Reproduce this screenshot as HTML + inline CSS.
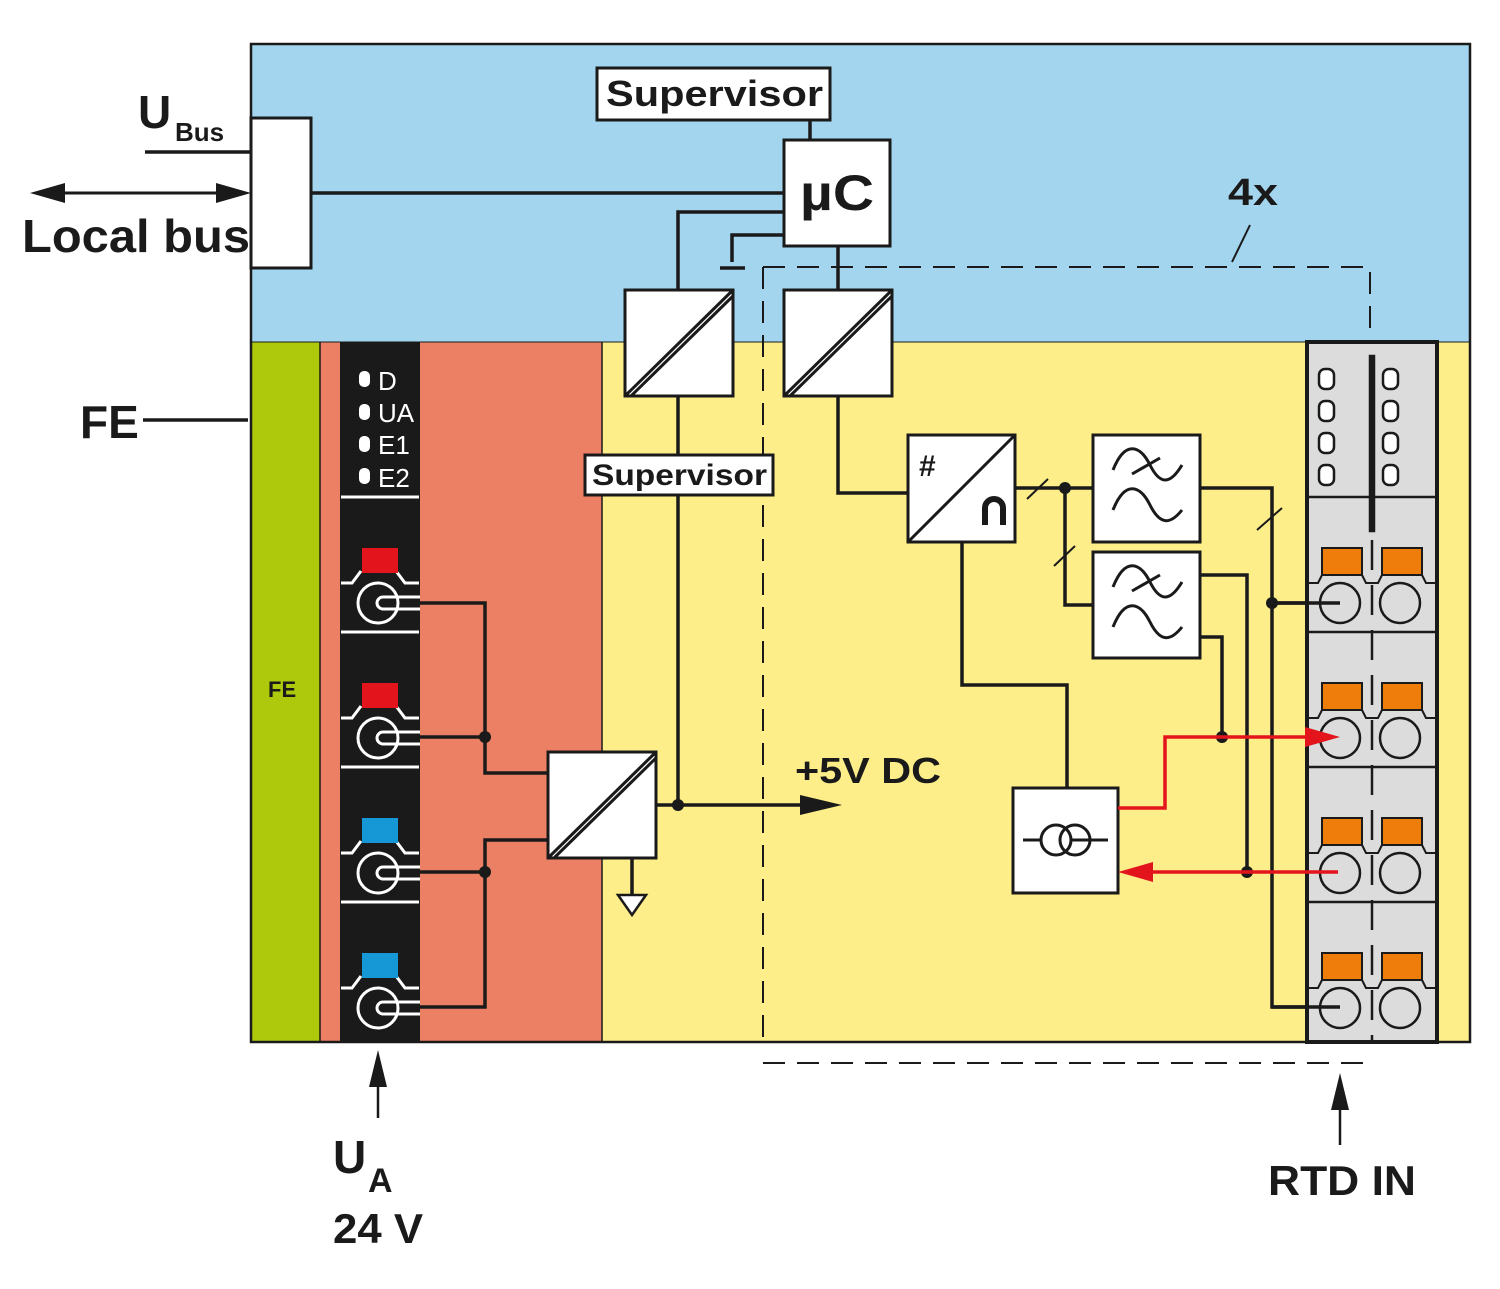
<!DOCTYPE html>
<html><head><meta charset="utf-8"><style>html,body{margin:0;padding:0;background:#fff}svg{display:block}text{font-family:"Liberation Sans",Arial,sans-serif;font-weight:bold}</style></head><body>
<svg width="1500" height="1289" viewBox="0 0 1500 1289" xmlns="http://www.w3.org/2000/svg">
<!-- regions -->
<rect x="251" y="44" width="1219" height="298" fill="#a3d5ee"/>
<rect x="602" y="342" width="868" height="700" fill="#fdee8a"/>
<rect x="320" y="342" width="282" height="700" fill="#ec8065"/>
<rect x="251" y="342" width="69" height="700" fill="#aec90c"/>
<rect x="251" y="44" width="1219" height="998" fill="none" stroke="#1a1a1a" stroke-width="2.5"/>
<line x1="251" y1="342" x2="1470" y2="342" stroke="#1a1a1a" stroke-width="1"/>
<line x1="320" y1="342" x2="320" y2="1042" stroke="#1a1a1a" stroke-width="1.5"/>
<line x1="602" y1="342" x2="602" y2="1042" stroke="#1a1a1a" stroke-width="1.5"/>
<text x="268" y="697" font-size="22" fill="#1a1a1a">FE</text>

<!-- black strip -->
<rect x="340" y="342" width="80" height="700" fill="#1a1a1a"/>
<g fill="#fff">
<rect x="359" y="371" width="11" height="16" rx="5"/><rect x="359" y="404" width="11" height="16" rx="5"/>
<rect x="359" y="436" width="11" height="16" rx="5"/><rect x="359" y="468" width="11" height="16" rx="5"/>
<text x="378" y="390" font-size="26" style="font-weight:normal">D</text>
<text x="378" y="422" font-size="26" style="font-weight:normal">UA</text>
<text x="378" y="454" font-size="26" style="font-weight:normal">E1</text>
<text x="378" y="487" font-size="26" style="font-weight:normal">E2</text>
</g>
<line x1="341" y1="497" x2="419" y2="497" stroke="#fff" stroke-width="3"/>
<g stroke="#fff" stroke-width="3" fill="none">
<line x1="341" y1="632" x2="419" y2="632"/><line x1="341" y1="767" x2="419" y2="767"/><line x1="341" y1="902" x2="419" y2="902"/>
</g>
<g id="conn">
<path d="M341,583 L352,583 L361,571 M396,571 L405,583 L419,583" stroke="#fff" stroke-width="3" fill="none"/>
<circle cx="378" cy="603" r="20" stroke="#fff" stroke-width="3" fill="none"/>
<path d="M383,597 L420,597 M383,609 L420,609 M383,597 A6,6 0 0 0 383,609" stroke="#fff" stroke-width="3" fill="none"/>
</g>
<rect x="362" y="548" width="36" height="25" fill="#e3141b"/>
<use href="#conn" y="135"/><rect x="362" y="683" width="36" height="25" fill="#e3141b"/>
<use href="#conn" y="270"/><rect x="362" y="818" width="36" height="25" fill="#1798d6"/>
<use href="#conn" y="405"/><rect x="362" y="953" width="36" height="25" fill="#1798d6"/>

<!-- wiring -->
<g stroke="#1a1a1a" stroke-width="3.5" fill="none">
<path d="M408,603 H485 V773 H548"/>
<path d="M408,737 H485"/>
<path d="M408,872 H485"/>
<path d="M408,1007 H485 V840 H548"/>
<path d="M145,152 H251"/>
<path d="M311,193 H784"/>
<path d="M143,420 H248"/>
<path d="M810,120 V140"/>
<path d="M784,212 H678 V290"/>
<path d="M784,235 H732 V262"/>
<path d="M720,268 H745"/>
<path d="M838,246 V290"/>
<path d="M678,396 V805"/>
<path d="M656,805 H805"/>
<path d="M632,858 V895"/>
<path d="M838,396 V493 H908"/>
<path d="M1015,488 H1093"/>
<path d="M1065,488 V605 H1093"/>
<path d="M1200,488 H1272 V1007 H1322"/>
<path d="M1272,603 H1322"/>
<path d="M1200,575 H1247 V872"/>
<path d="M1200,637 H1222 V737"/>
<path d="M962,542 V685 H1067 V788"/>
</g>
<path d="M618,895 L646,895 L632,915 Z" fill="#fff" stroke="#1a1a1a" stroke-width="2.5"/>
<g stroke="#1a1a1a" stroke-width="2">
<line x1="1027" y1="499" x2="1048" y2="479"/>
<line x1="1054" y1="566" x2="1075" y2="546"/>
<line x1="1257" y1="530" x2="1282" y2="508"/>
</g>
<g fill="#1a1a1a">
<circle cx="485" cy="737" r="6"/><circle cx="485" cy="872" r="6"/>
<circle cx="678" cy="805" r="6"/><circle cx="1065" cy="488" r="6"/>
<circle cx="1272" cy="603" r="6"/><circle cx="1222" cy="737" r="6"/><circle cx="1247" cy="872" r="6"/>
</g>
<path d="M800,795 L842,805 L800,815 Z" fill="#1a1a1a"/>

<!-- dashed 4x -->
<g stroke="#1a1a1a" stroke-width="2" stroke-dasharray="22,12" fill="none">
<path d="M763,267 H1370 V340"/>
<path d="M763,267 V1042"/>
<path d="M763,1063 H1370"/>
</g>
<line x1="1250" y1="225" x2="1232" y2="262" stroke="#1a1a1a" stroke-width="2"/>
<text x="1228" y="205" font-size="38" fill="#1a1a1a" textLength="50" lengthAdjust="spacingAndGlyphs">4x</text>

<!-- boxes -->
<g stroke="#1a1a1a" stroke-width="3" fill="#fff">
<rect x="251" y="118" width="60" height="150"/>
<rect x="597" y="68" width="233" height="52"/>
<rect x="784" y="140" width="106" height="106"/>
<rect x="625" y="290" width="108" height="106"/>
<rect x="784" y="290" width="108" height="106"/>
<rect x="585" y="455" width="188" height="40"/>
<rect x="548" y="752" width="108" height="106"/>
<rect x="908" y="435" width="107" height="107"/>
<rect x="1093" y="435" width="107" height="107"/>
<rect x="1093" y="552" width="107" height="106"/>
<rect x="1013" y="788" width="105" height="105"/>
</g>
<g stroke="#1a1a1a" stroke-width="3" fill="none">
<line x1="625" y1="396" x2="733" y2="290"/><line x1="631" y1="396" x2="733" y2="296"/>
<line x1="784" y1="396" x2="892" y2="290"/><line x1="790" y1="396" x2="892" y2="296"/>
<line x1="548" y1="858" x2="656" y2="752"/><line x1="554" y1="858" x2="656" y2="758"/>
<line x1="908" y1="542" x2="1015" y2="435"/>
<path d="M1113,470 C1125,440 1140,445 1150,465 S1170,485 1182,465"/>
<line x1="1132" y1="474" x2="1160" y2="458"/>
<path d="M1113,510 C1125,480 1140,485 1150,505 S1170,525 1182,510"/>
<path d="M1113,587 C1125,557 1140,562 1150,582 S1170,602 1182,582"/>
<line x1="1132" y1="591" x2="1160" y2="575"/>
<path d="M1113,627 C1125,597 1140,602 1150,622 S1170,642 1182,627"/>
<line x1="1023" y1="840" x2="1108" y2="840"/>
<circle cx="1056" cy="840" r="15" fill="#fff"/><circle cx="1075" cy="840" r="15"/>
<path d="M985,525 V508 A9,9 0 0 1 1003,508 V525" stroke-width="6"/>
</g>
<text x="919" y="476" font-size="30" fill="#1a1a1a">#</text>
<text x="606" y="106" font-size="36" fill="#1a1a1a" textLength="217" lengthAdjust="spacingAndGlyphs">Supervisor</text>
<text x="592" y="485" font-size="30" fill="#1a1a1a" textLength="175" lengthAdjust="spacingAndGlyphs">Supervisor</text>
<text x="800" y="210" font-size="50" fill="#1a1a1a" textLength="74" lengthAdjust="spacingAndGlyphs">µC</text>

<!-- terminal block -->
<rect x="1307" y="342" width="130" height="700" fill="#dcdcdc" stroke="#1a1a1a" stroke-width="4"/>
<g stroke="#1a1a1a" stroke-width="2.5" fill="none">
<line x1="1307" y1="497" x2="1437" y2="497"/><line x1="1307" y1="632" x2="1437" y2="632"/>
<line x1="1307" y1="767" x2="1437" y2="767"/><line x1="1307" y1="902" x2="1437" y2="902"/>
<rect x="1370" y="356" width="4" height="175" fill="#1a1a1a"/>
<line x1="1372" y1="540" x2="1372" y2="1042" stroke-dasharray="30,15"/>
</g>
<g fill="#fff" stroke="#1a1a1a" stroke-width="2.5">
<rect x="1319" y="369" width="15" height="20" rx="6"/><rect x="1319" y="401" width="15" height="20" rx="6"/>
<rect x="1319" y="433" width="15" height="20" rx="6"/><rect x="1319" y="465" width="15" height="20" rx="6"/>
<rect x="1383" y="369" width="15" height="20" rx="6"/><rect x="1383" y="401" width="15" height="20" rx="6"/>
<rect x="1383" y="433" width="15" height="20" rx="6"/><rect x="1383" y="465" width="15" height="20" rx="6"/>
</g>
<g id="term">
<path d="M1308,583 H1318 L1322,575 M1362,575 L1366,583 H1378 L1382,575 M1422,575 L1426,583 H1436" stroke="#1a1a1a" stroke-width="2" fill="none"/>
<rect x="1322" y="548" width="40" height="27" fill="#ef7d0b" stroke="#1a1a1a" stroke-width="2"/>
<rect x="1382" y="548" width="40" height="27" fill="#ef7d0b" stroke="#1a1a1a" stroke-width="2"/>
<circle cx="1340" cy="603" r="20" fill="none" stroke="#1a1a1a" stroke-width="2.5"/>
<circle cx="1400" cy="603" r="20" fill="none" stroke="#1a1a1a" stroke-width="2.5"/>
</g>
<use href="#term" y="135"/><use href="#term" y="270"/><use href="#term" y="405"/>
<g stroke="#1a1a1a" stroke-width="3.5"><line x1="1272" y1="603" x2="1340" y2="603"/><line x1="1272" y1="1007" x2="1340" y2="1007"/></g>

<!-- red -->
<g stroke="#e3141b" stroke-width="3.5" fill="none">
<path d="M1118,808 H1165 V737 H1310"/>
<path d="M1338,872 H1148"/>
</g>
<path d="M1305,727 L1340,737 L1305,747 Z" fill="#e3141b"/>
<path d="M1153,862 L1118,872 L1153,882 Z" fill="#e3141b"/>

<!-- external labels -->
<line x1="50" y1="193" x2="230" y2="193" stroke="#1a1a1a" stroke-width="3"/>
<path d="M30,193 L65,183 L65,203 Z" fill="#1a1a1a"/><path d="M251,193 L216,183 L216,203 Z" fill="#1a1a1a"/>
<text x="138" y="128" font-size="46" fill="#1a1a1a">U</text><text x="175" y="141" font-size="26" fill="#1a1a1a">Bus</text>
<text x="22" y="252" font-size="46" fill="#1a1a1a" textLength="228" lengthAdjust="spacingAndGlyphs">Local bus</text>
<text x="80" y="438" font-size="46" fill="#1a1a1a">FE</text>
<text x="795" y="783" font-size="36" fill="#1a1a1a" textLength="146" lengthAdjust="spacingAndGlyphs">+5V DC</text>
<line x1="378" y1="1085" x2="378" y2="1118" stroke="#1a1a1a" stroke-width="2.5"/>
<path d="M378,1050 L369,1087 L387,1087 Z" fill="#1a1a1a"/>
<line x1="1340" y1="1105" x2="1340" y2="1145" stroke="#1a1a1a" stroke-width="2.5"/>
<path d="M1340,1073 L1331,1110 L1349,1110 Z" fill="#1a1a1a"/>
<text x="333" y="1173" font-size="46" fill="#1a1a1a">U</text><text x="368" y="1192" font-size="34" fill="#1a1a1a">A</text>
<text x="333" y="1243" font-size="42" fill="#1a1a1a" textLength="90" lengthAdjust="spacingAndGlyphs">24 V</text>
<text x="1268" y="1195" font-size="42" fill="#1a1a1a" textLength="148" lengthAdjust="spacingAndGlyphs">RTD IN</text>
</svg>
</body></html>
